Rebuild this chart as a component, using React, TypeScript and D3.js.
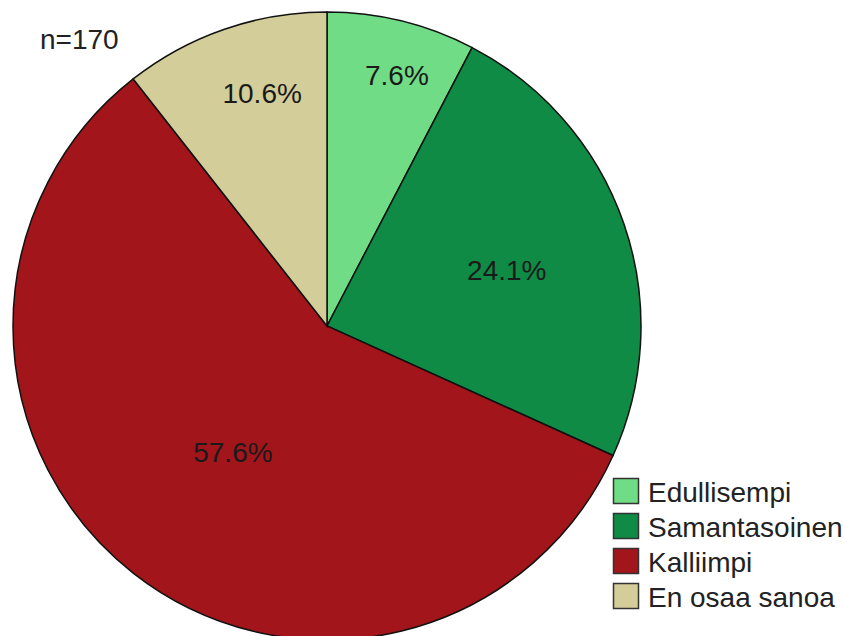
import React from "react";
import * as d3 from "d3";

const categories = ["Edullisempi", "Samantasoinen", "Kalliimpi", "En osaa sanoa"];
const counts = [13, 41, 98, 18];
const colors = ["#71dc86", "#0f8b46", "#a1151b", "#d3cd99"];
const nLabel = "n=170";

const W = 844;
const H = 636;
const cx = 327;
const cy = 326;
const R = 314;
const labelRadiusFrac = [0.83, 0.6, 0.5, 0.77];
const labelAngleShift = [1.8, 1.7, -1.3, 3.5];
const font = "'Liberation Sans', Arial, sans-serif";

export default function App() {
  const total = d3.sum(counts);
  const pie = d3.pie<number>().sort(null).value((d) => d);
  const arcs = pie(counts);
  const arcGen = d3.arc<d3.PieArcDatum<number>>().innerRadius(0).outerRadius(R);
  const fmt = d3.format(".1f");

  return (
    <svg
      width={W}
      height={H}
      style={{ position: "fixed", left: 0, top: 0, background: "#fff" }}
      fontFamily={font}
    >
      <g transform={`translate(${cx},${cy})`}>
        {arcs.map((a, i) => (
          <path key={i} d={arcGen(a) || ""} fill={colors[i]} stroke="#111" strokeWidth={1.5} />
        ))}
        {arcs.map((a, i) => {
          const mid = (a.startAngle + a.endAngle) / 2 + (labelAngleShift[i] * Math.PI) / 180;
          const r = R * labelRadiusFrac[i];
          const x = Math.sin(mid) * r;
          const y = -Math.cos(mid) * r;
          return (
            <text key={i} x={x} y={y + 10} textAnchor="middle" fontSize={28} fill="#1a1a1a">
              {fmt((counts[i] / total) * 100)}%
            </text>
          );
        })}
      </g>
      <text x={40} y={49} fontSize={28} fill="#222">
        {nLabel}
      </text>
      <g transform="translate(613,478)">
        {categories.map((c, i) => (
          <g key={c} transform={`translate(0,${i * 35})`}>
            <rect x={0.5} y={0.5} width={25} height={25} fill={colors[i]} stroke="#333" strokeWidth={1.5} />
            <text x={35} y={24} fontSize={28} fill="#222">
              {c}
            </text>
          </g>
        ))}
      </g>
    </svg>
  );
}
